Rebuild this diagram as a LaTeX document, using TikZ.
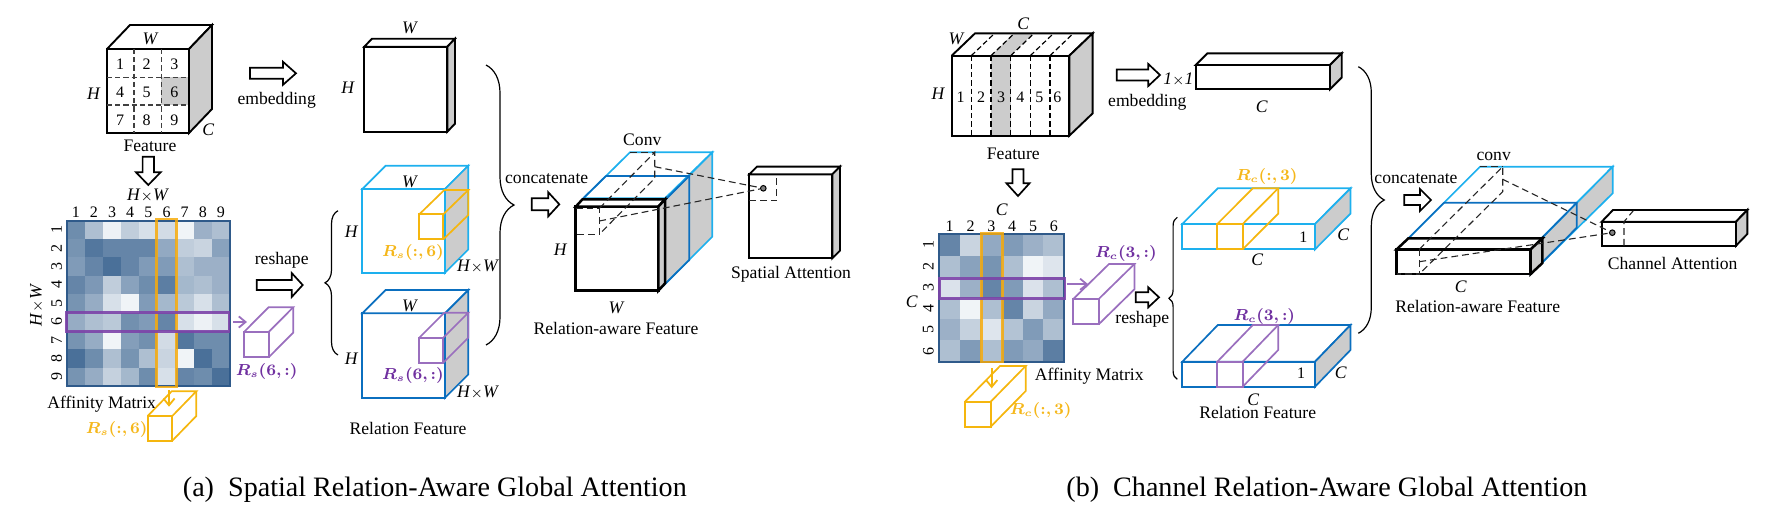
\documentclass[tikz,border=0pt]{standalone}
\usepackage{amsmath,amssymb}
\usepackage{bm}
\usepackage{fontspec}
\setmainfont{Liberation Serif}
\usepackage{xcolor}
\usepackage{tikz}
\usetikzlibrary{arrows.meta,calc,decorations.pathreplacing}

\definecolor{sidegray}{HTML}{CCCCCC}
\definecolor{matblue}{HTML}{4A7099}
\definecolor{frameblue}{HTML}{2F5A8A}
\definecolor{lightcyan}{HTML}{1DB0EE}
\definecolor{relblue}{HTML}{0B6FBF}
\definecolor{goldline}{HTML}{F5B60E}
\definecolor{goldtext}{HTML}{F5B71B}
\definecolor{purpleline}{HTML}{9A6FBE}
\definecolor{purpletext}{HTML}{7030A0}

\tikzset{
  lbl/.style={inner sep=0pt, font=\fontsize{8.8}{10}\selectfont},
  num/.style={inner sep=0pt, font=\fontsize{8}{10}\selectfont},
  rlbl/.style={inner sep=0pt, font=\fontsize{7.8}{10}\selectfont},
  caplbl/.style={inner sep=0pt, font=\fontsize{14.05}{16}\selectfont},
  blk/.style={draw=black, line width=0.95pt, line join=miter},
  blkthick/.style={draw=black, line width=1.25pt},
  cyanbox/.style={draw=lightcyan, line width=0.85pt},
  bluebox/.style={draw=relblue, line width=0.85pt},
  goldbox/.style={draw=goldline, line width=0.85pt},
  purplebox/.style={draw=purpleline, line width=0.85pt},
  cell/.style={draw=black!75, line width=0.6pt, dash pattern=on 2.6pt off 1.5pt},
  cone/.style={draw=black!85, line width=0.55pt, dash pattern=on 3.4pt off 2pt},
  blockarrow/.style={draw=black, line width=0.85pt, fill=white, line join=miter},
  bracket/.style={draw=black, line width=0.6pt, decorate},
  smallarrow/.style={-{Straight Barb[length=3.4pt,width=5.6pt]}, line width=0.9pt},
  goldrow/.style={draw=goldline!80!orange, line width=1.3pt, opacity=0.85},
  purplerow/.style={draw=purpletext!70!purpleline, line width=1.3pt, opacity=0.9},
}
\newcommand{\by}{{\fontsize{7}{8}\selectfont$\times$}}

% x0 y0 x1 y1 dx dy style
\newcommand{\cuboid}[7]{%
  \filldraw[#7, fill=white] (#1,#2) rectangle (#3,#4);
  \filldraw[#7, fill=white] (#1,#2) -- ++(#5,#6) -- ({#3+#5},{#2+#6}) -- (#3,#2) -- cycle;
  \filldraw[#7, fill=sidegray] (#3,#2) -- ++(#5,#6) -- ++(0,{#4-#2}) -- (#3,#4) -- cycle;
}
% same box, lines only
\newcommand{\wirebox}[7]{%
  \draw[#7] (#1,#2) rectangle (#3,#4);
  \draw[#7] (#1,#2) -- ++(#5,#6) -- ({#3+#5},{#2+#6}) -- (#3,#2);
  \draw[#7] ({#3+#5},{#2+#6}) -- ++(0,{#4-#2}) -- (#3,#4);
}
% tail, neck, tip, y, half shaft, half head
\newcommand{\rightblock}[6]{%
  \filldraw[blockarrow] (#1,{#4-#5}) -- (#2,{#4-#5}) -- (#2,{#4-#6}) -- (#3,#4)
    -- (#2,{#4+#6}) -- (#2,{#4+#5}) -- (#1,{#4+#5}) -- cycle;
}
% tail, neck, tip, x, half shaft, half head
\newcommand{\downblock}[6]{%
  \filldraw[blockarrow] ({#4-#5},#1) -- ({#4-#5},#2) -- ({#4-#6},#2) -- (#4,#3)
    -- ({#4+#6},#2) -- ({#4+#5},#2) -- ({#4+#5},#1) -- cycle;
}

\begin{document}
\begin{tikzpicture}[x=0.5pt,y=-0.5pt]
\useasboundingbox (0,0) rectangle (1790,514);

% ---- (a) feature cube
\fill[sidegray] (161.3,77.3) rectangle (189,105);
\draw[blk] (107,49) rectangle (189,133);
\draw[blk] (107,49) -- ++(23,-24) -- (212,25) -- (189,49);
\filldraw[blk, fill=sidegray] (189,49) -- (212,25) -- (212,109) -- (189,133) -- cycle;
\draw[cell] (134,49) -- (134,133);
\draw[cell] (161.3,49) -- (161.3,133);
\draw[cell] (107,77.3) -- (189,77.3);
\draw[cell] (107,105) -- (189,105);
\foreach \n/\x/\y in {1/120/64,2/146.7/64,3/174.3/64,4/120/92.7,5/146.7/92.7,6/174.3/92.7,7/120/120,8/146.7/120,9/174.3/120}
  \node[num] (cellA\n) at (\x,\y) {\n};
\node[lbl] (wA) at (150.7,39) {\textit{W}};
\node[lbl] (hA) at (94,93.3) {\textit{H}};
\node[lbl] (cA) at (208.3,129.3) {\textit{C}};
\node[lbl] (featA) at (150,145.7) {Feature};
\downblock{156.7}{172.3}{185}{148.3}{5.7}{12.3}

% embedding branch
\rightblock{250}{283}{296}{73.3}{5.5}{11.5}
\node[lbl] (embedA) at (276.7,100) {embedding};
\cuboid{364.3}{46.7}{447.3}{131.7}{7.7}{-8}{blk}
\node[lbl] (wEmbA) at (410,28.3) {\textit{W}};
\node[lbl] (hEmbA) at (348,87.3) {\textit{H}};

% affinity matrix
\foreach \vals [count=\r from 0] in {
  {80,45,10,35,22,25,8,55,45},
  {75,95,85,85,85,60,35,30,65},
  {70,85,100,85,70,70,45,55,55},
  {85,72,35,65,80,90,50,45,55},
  {75,58,22,8,70,50,38,22,45},
  {58,45,38,78,70,85,22,10,22},
  {75,58,8,68,78,25,95,80,80},
  {100,80,45,75,45,30,8,100,80},
  {75,58,32,50,80,22,85,80,100}}
  \foreach \v [count=\c from 0] in \vals
    \fill[matblue!\v!white] ({66.7+18.15*\c},{220.7+18.37*\r}) rectangle ++(18.3,18.5);
\draw[frameblue, line width=0.9pt] (66.7,220.7) rectangle (230,386);
\foreach \n in {1,...,9} {
  \node[num] (colA\n) at ({66.7+18.15*(\n-0.5)},212) {\n};
  \node[num, rotate=90] (rowA\n) at (56.7,{220.7+18.37*(\n-0.5)}) {\n};
}
\node[lbl] (topA) at (148,196) {\textit{H}\by\textit{W}};
\node[lbl, rotate=90] (leftA) at (36.7,305) {\textit{H}\by\textit{W}};
\draw[goldrow] (156.7,219) rectangle (176.7,387);
\draw[purplerow] (66.7,312.7) rectangle (229,331.7);
\node[lbl] (affA) at (101.7,404) {Affinity Matrix};

% picked row and column
\coordinate (rowTailA) at (233,322);
\coordinate (rowTipA) at (247,322);
\draw[smallarrow, purpleline] (rowTailA) -- (rowTipA);
\wirebox{244}{332}{268.7}{357.3}{24.5}{-24.7}{purplebox}
\node[rlbl, purpletext] (rRowA) at (266.7,371.7) {$\bm{R_s(6,\mathord{:})}$};
\coordinate (colTailA) at (169,390);
\coordinate (colTipA) at (169,406.7);
\wirebox{147.7}{416}{172.3}{440.7}{24}{-24.7}{goldbox}
\draw[smallarrow, goldline] (colTailA) -- (colTipA);
\node[rlbl, goldtext] (rColA) at (116.7,429) {$\bm{R_s(\mathord{:},6)}$};

% reshape
\node[lbl] (reshA) at (281.7,260) {reshape};
\rightblock{256.7}{291.7}{302.7}{285}{5}{12}
\draw[bracket, decoration={brace, amplitude=6.5pt}] (338,355) -- (338,210.7);

% relation feature cubes
\cuboid{362.3}{189}{445}{272.7}{23.3}{-23.3}{cyanbox}
\wirebox{419.3}{214.3}{443.3}{239.3}{25}{-24.3}{goldbox}
\node[lbl] (wRelA) at (410,182) {\textit{W}};
\node[lbl] (hRelA) at (351.7,231.7) {\textit{H}};
\node[rlbl, goldtext] (rColB) at (413,252) {$\bm{R_s(\mathord{:},6)}$};
\node[lbl] (hwRelA) at (478,266.7) {\textit{H}\by\textit{W}};
\cuboid{362.3}{313.3}{445}{397.7}{23.3}{-23.3}{bluebox}
\wirebox{419.3}{337.7}{443.3}{362.7}{25}{-25}{purplebox}
\node[lbl] (wRelB) at (410,305.7) {\textit{W}};
\node[lbl] (hRelB) at (351.7,359) {\textit{H}};
\node[rlbl, purpletext] (rRowB) at (413,375.7) {$\bm{R_s(6,\mathord{:})}$};
\node[lbl] (hwRelB) at (478,392.3) {\textit{H}\by\textit{W}};
\node[lbl] (relA) at (408,428.3) {Relation Feature};

% concatenate
\draw[bracket, decoration={brace, amplitude=14pt}] (486,65) -- (486,345);
\node[lbl] (concA) at (546.7,178.7) {concatenate};
\rightblock{531.7}{548.3}{559.3}{204.3}{6}{12}
\filldraw[cyanbox, fill=white] (583.3,198.3) -- (630,152.3) -- (712.3,152.3) -- (665,198.3) -- cycle;
\filldraw[cyanbox, fill=sidegray] (658.3,206.7) -- (712.3,152.3) -- (712.3,236.7) -- (658.3,290.7) -- cycle;
\draw[bluebox] (606,176) -- (689.3,176) -- (689.3,260) -- (658.3,290.7);
\draw[bluebox] (689.3,176) -- (658.3,206.7);
\draw[bluebox] (606,176) -- (583.3,198.3);
\cuboid{575.7}{206.7}{658.3}{290.7}{6.7}{-7.3}{blkthick}
\draw[cone] (575.7,208.3) -- (599.3,208.3) -- (599.3,234.3) -- (575.7,234.3);
\draw[cone] (599.3,208.3) -- (654.7,152.3) -- (654.7,178.3) -- (599.3,234.3);
\draw[cone] (630,152.3) -- (654.7,152.3);
\node[lbl] (convA) at (642.3,139.3) {Conv};
\node[lbl] (hCatA) at (560.7,250) {\textit{H}};
\node[lbl] (wCatA) at (616.7,308.3) {\textit{W}};
\node[lbl] (awareA) at (616,328.3) {Relation-aware Feature};

% spatial attention
\cuboid{749.3}{174.3}{832.3}{258.3}{7.7}{-7.7}{blk}
\draw[cone] (749.3,200.7) -- (776.7,200.7) -- (776.7,174.3);
\node[circle, draw=black, fill=black!50, line width=0.5pt, inner sep=0pt, minimum size=2.8pt] (dotA) at (763.3,188.3) {};
\coordinate (coneUpA) at (654.7,166.7);
\coordinate (coneLowA) at (599.3,221);
\draw[cone] (coneUpA) -- (dotA);
\draw[cone] (coneLowA) -- (dotA);
\node[lbl] (spatA) at (791,274) {Spatial Attention};
\node[caplbl, anchor=west] (capA) at (182.5,490) {(a)\enspace Spatial Relation-Aware Global Attention};

% ---- (b) feature cube
\fill[sidegray] (991,55.7) rectangle (1010.7,135.7);
\fill[sidegray] (991,55.7) -- ++(22.5,-22.3) -- ++(19.7,0) -- (1010.7,55.7) -- cycle;
\draw[blk] (951.7,55.7) rectangle (1069.3,135.7);
\draw[blk] (951.7,55.7) -- ++(23.3,-22.3) -- (1092.6,33.4) -- (1069.3,55.7);
\filldraw[blk, fill=sidegray] (1069.3,55.7) -- (1092.6,33.4) -- (1092.6,113.4) -- (1069.3,135.7) -- cycle;
\foreach \x in {971.3,991,1010.7,1030.3,1050} {
  \draw[cell, draw=black] (\x,55.7) -- (\x,135.7);
  \draw[cell, draw=black] (\x,55.7) -- ++(23.3,-22.3);
}
\foreach \n/\x in {1/960.7,2/981,3/1001,4/1020.3,5/1039.3,6/1057.3}
  \node[num] (cellB\n) at (\x,97.7) {\n};
\node[lbl] (cB) at (1023.3,24) {\textit{C}};
\node[lbl] (wB) at (956.7,39.3) {\textit{W}};
\node[lbl] (hB) at (938.3,93.3) {\textit{H}};
\node[lbl] (featB) at (1013.3,154.3) {Feature};
\downblock{169.3}{183.3}{196}{1018}{5.5}{11.5}

% embedding branch
\rightblock{1116.7}{1148.3}{1160}{75}{5.5}{11}
\node[lbl] (embedB) at (1147.3,102.3) {embedding};
\node[lbl] (oneB) at (1178.3,80) {\textit{1}\by\textit{1}};
\cuboid{1195.7}{65}{1330}{89.3}{11.7}{-11.7}{blk}
\node[lbl] (cEmbB) at (1261.7,106.7) {\textit{C}};

% affinity matrix
\foreach \vals [count=\r from 0] in {
  {85,30,60,70,55,45},
  {45,65,75,45,8,18},
  {20,55,85,70,20,45},
  {45,8,45,85,30,60},
  {55,32,18,42,70,45},
  {45,70,45,70,60,90}}
  \foreach \v [count=\c from 0] in \vals
    \fill[matblue!\v!white] ({939.3+20.83*\c},{234.3+21.23*\r}) rectangle ++(21,21.4);
\draw[frameblue, line width=0.9pt] (939.3,234.3) rectangle (1064.3,361.7);
\foreach \n in {1,...,6} {
  \node[num] (colB\n) at ({939.3+20.83*(\n-0.5)},226.7) {\n};
  \node[num, rotate=90] (rowB\n) at (928.3,{234.3+21.23*(\n-0.5)}) {\n};
}
\node[lbl] (topB) at (1001.7,209.3) {\textit{C}};
\node[lbl] (leftB) at (911.7,301.7) {\textit{C}};
\draw[goldrow] (981.7,233.3) rectangle (1002.7,362);
\draw[purplerow] (939.3,278.3) rectangle (1065,298.3);
\node[lbl] (affB) at (1089.3,376.7) {Affinity Matrix};

% picked row and column
\coordinate (rowTailB) at (1066.7,284.3);
\coordinate (rowTipB) at (1088.3,284.3);
\draw[smallarrow, purpleline] (rowTailB) -- (rowTipB);
\wirebox{1073.3}{299}{1098.7}{324.3}{35.7}{-35}{purplebox}
\node[rlbl, purpletext] (rRowC) at (1126,253.3) {$\bm{R_c(3,\mathord{:})}$};
\coordinate (colTailB) at (991.7,368.3);
\coordinate (colTipB) at (991.7,388.3);
\wirebox{965}{401.7}{990.7}{426.7}{35}{-35.7}{goldbox}
\draw[smallarrow, goldline] (colTailB) -- (colTipB);
\node[rlbl, goldtext] (rColC) at (1040.7,410.7) {$\bm{R_c(\mathord{:},3)}$};

% reshape
\rightblock{1135.7}{1148.3}{1159}{297.3}{5}{10}
\node[lbl] (reshB) at (1142.3,319) {reshape};
\draw[bracket, decoration={brace, amplitude=4.2pt}] (1177.3,379.3) -- (1177.3,217.3);

% relation feature cuboids
\cuboid{1182.3}{224}{1315}{249.3}{35.5}{-35.7}{cyanbox}
\wirebox{1217.3}{224}{1242.7}{249.3}{35.5}{-35.7}{goldbox}
\node[num] (oneRelB) at (1303.3,237.3) {1};
\node[lbl] (cRelB) at (1343.3,234.3) {\textit{C}};
\node[lbl] (cRelBelowB) at (1257.3,260) {\textit{C}};
\node[rlbl, goldtext] (rColD) at (1266.7,176.7) {$\bm{R_c(\mathord{:},3)}$};
\cuboid{1182.3}{361.7}{1315}{386.7}{35.5}{-36.7}{bluebox}
\wirebox{1217.3}{361.7}{1242.7}{386.7}{35.5}{-36.7}{purplebox}
\node[num] (oneRelC) at (1301,373.3) {1};
\node[lbl] (cRelC) at (1340.7,372.3) {\textit{C}};
\node[lbl] (cRelBelowC) at (1253.3,399.3) {\textit{C}};
\node[rlbl, purpletext] (rRowD) at (1264.3,316.7) {$\bm{R_c(3,\mathord{:})}$};
\node[lbl] (relB) at (1257.7,412.3) {Relation Feature};

% concatenate
\draw[bracket, decoration={brace, amplitude=13pt}] (1358.3,66.7) -- (1358.3,333.3);
\node[lbl] (concB) at (1416,179) {concatenate};
\rightblock{1404.3}{1420}{1431}{200}{5}{11}
\filldraw[cyanbox, fill=white] (1408.4,238.3) -- (1480,166.7) -- (1612.7,166.7) -- (1530.7,249.3) -- cycle;
\filldraw[cyanbox, fill=sidegray] (1530.7,249.3) -- (1612.7,166.7) -- (1612.7,193.3) -- (1530.7,274) -- cycle;
\draw[bluebox] (1444,202.7) -- (1576.7,202.7) -- (1576.7,227.7) -- (1530.7,274);
\draw[bluebox] (1576.7,202.7) -- (1530.7,249.3);
\draw[bluebox] (1444,202.7) -- (1408.4,238.3);
\cuboid{1396.7}{249.3}{1530.7}{274}{11.7}{-11}{blkthick}
\draw[cone] (1419.3,249.3) -- (1419.3,274) -- (1396.7,274);
\draw[cone] (1419.3,249.3) -- (1502.7,166.7) -- (1502.7,191.7) -- (1419.3,274);
\draw[cone] (1480,166.7) -- (1502.7,166.7);
\node[lbl] (convB) at (1493.7,156) {conv};
\node[lbl] (cCatB) at (1460.7,286.7) {\textit{C}};
\node[lbl] (awareB) at (1477.7,306.7) {Relation-aware Feature};

% channel attention
\cuboid{1601.7}{221.7}{1736}{245.7}{11.3}{-11.7}{blk}
\draw[cone] (1624,245.7) -- (1624,221.7) -- (1633.3,210.7);
\node[circle, draw=black, fill=black!50, line width=0.5pt, inner sep=0pt, minimum size=2.8pt] (dotB) at (1612.3,232.7) {};
\coordinate (coneUpB) at (1502.7,179.3);
\coordinate (coneLowB) at (1419.3,261.7);
\draw[cone] (coneUpB) -- (dotB);
\draw[cone] (coneLowB) -- (dotB);
\node[lbl] (chanB) at (1672.7,263.3) {Channel Attention};
\node[caplbl, anchor=west] (capB) at (1066,490) {(b)\enspace Channel Relation-Aware Global Attention};
\end{tikzpicture}
\end{document}
